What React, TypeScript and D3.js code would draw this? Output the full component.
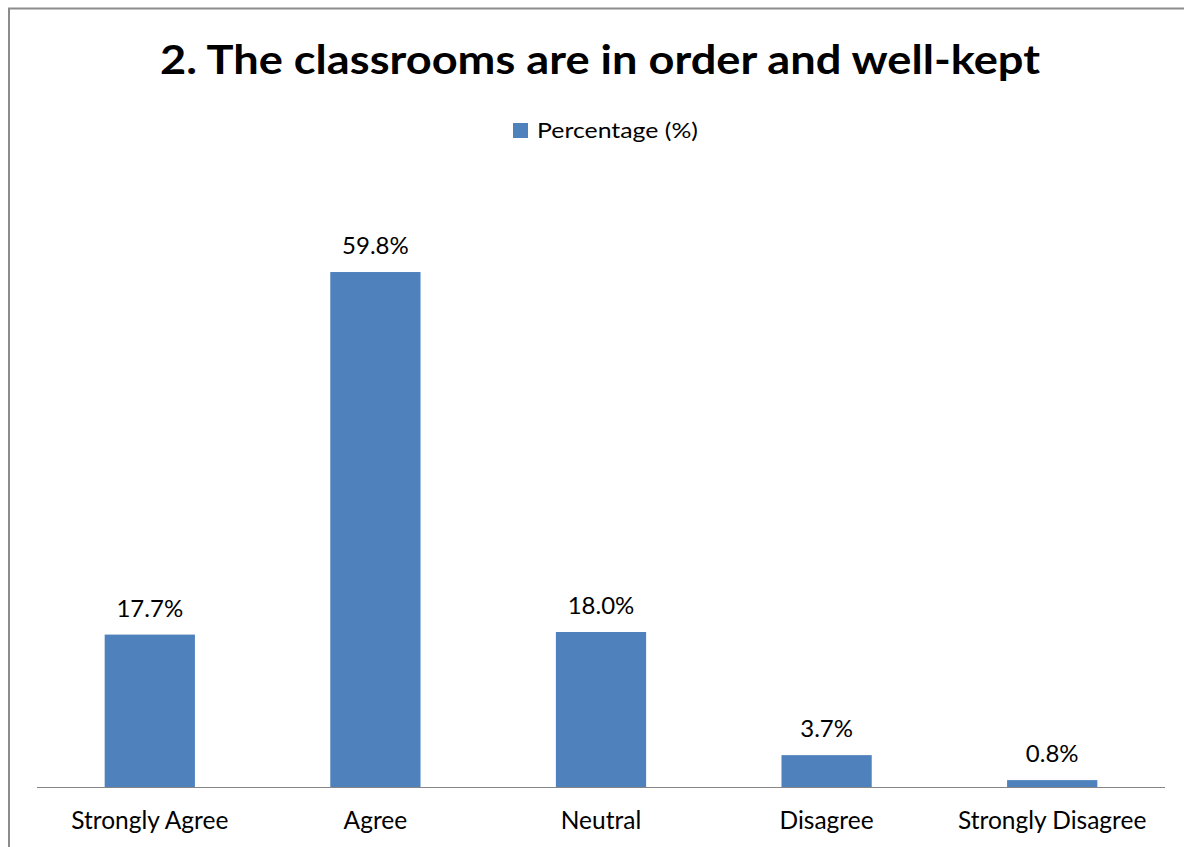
import React from "react";
import * as d3 from "d3";

const categories = ["Strongly Agree", "Agree", "Neutral", "Disagree", "Strongly Disagree"];
const values = [17.7, 59.8, 18.0, 3.7, 0.8];
const seriesName = "Percentage (%)";
const title = "2. The classrooms are in order and well-kept";

const W = 1184;
const H = 847;
const FONT = "Lato, 'Open Sans', sans-serif";

export default function App() {
  const x = d3.scaleBand<string>().domain(categories).range([37, 1165]).paddingInner(0.6).paddingOuter(0.3);
  const y = d3.scaleLinear().domain([0, 70]).range([787, 184.2]);
  const bw = x.bandwidth();

  return (
    <svg
      width={W}
      height={H}
      style={{ position: "fixed", left: 0, top: 0, background: "#fff" }}
      fontFamily={FONT}
    >
      <rect x={0} y={0} width={W} height={H} fill="#fff" />
      <rect x={9} y={8.5} width={W + 20} height={H + 20} fill="none" stroke="#8c8c8c" strokeWidth={2} />
      <text
        x={600}
        y={74}
        textAnchor="middle"
        fontSize={41}
        fontWeight={700}
        fill="#000"
        textLength={880}
        lengthAdjust="spacingAndGlyphs"
      >
        {title}
      </text>
      <rect x={513} y={123} width={15} height={15} fill="#4F81BD" />
      <text x={537} y={138} fontSize={21} fill="#000" textLength={161} lengthAdjust="spacingAndGlyphs">
        {seriesName}
      </text>
      {categories.map((c, i) => (
        <g key={c}>
          <rect x={x(c)} y={y(values[i])} width={bw} height={y(0) - y(values[i])} fill="#4F81BD" />
          <text
            x={(x(c) as number) + bw / 2}
            y={y(values[i]) - 18}
            textAnchor="middle"
            fontSize={24}
            fill="#000"
          >
            {values[i].toFixed(1) + "%"}
          </text>
          <text
            x={(x(c) as number) + bw / 2}
            y={829}
            textAnchor="middle"
            fontSize={24.5}
            fill="#000"
          >
            {c}
          </text>
        </g>
      ))}
      <line x1={37} x2={1165} y1={787.5} y2={787.5} stroke="#868686" strokeWidth={1.2} />
    </svg>
  );
}
